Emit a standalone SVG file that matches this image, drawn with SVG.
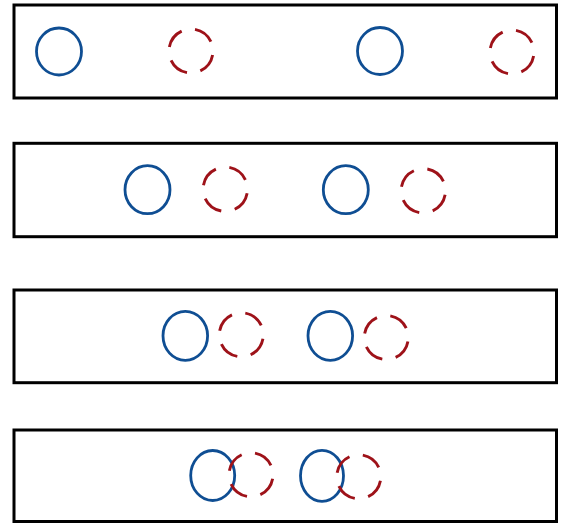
<svg xmlns="http://www.w3.org/2000/svg" width="562" height="527" viewBox="0 0 562 527">
<style>
.box{fill:#fff;stroke:#000;stroke-width:3}
.a{fill:none;stroke:#0f4e93;stroke-width:2.8}
.b{fill:none;stroke:#9e1219;stroke-width:2.9;stroke-dasharray:15 10;stroke-dashoffset:22}
</style>
<rect width="562" height="527" fill="#fff"/>
<g id="row1">
<rect class="box" x="14" y="5" width="542.5" height="93"/>
<ellipse class="a" cx="59" cy="51.5" rx="22.5" ry="23.5"/>
<circle class="b" cx="191" cy="51" r="22" pathLength="100"/>
<ellipse class="a" cx="380" cy="51" rx="22.5" ry="23.5"/>
<circle class="b" cx="512" cy="52" r="22" pathLength="100"/>
</g>
<g id="row2">
<rect class="box" x="14" y="143.3" width="542.5" height="93.4"/>
<ellipse class="a" cx="147.5" cy="189.7" rx="22.5" ry="24"/>
<circle class="b" cx="225.3" cy="189.2" r="22.2" pathLength="100"/>
<ellipse class="a" cx="345.8" cy="189.7" rx="22.5" ry="24"/>
<circle class="b" cx="423.3" cy="190.8" r="22.2" pathLength="100"/>
</g>
<g id="row3">
<rect class="box" x="14" y="290" width="542.5" height="92.7"/>
<ellipse class="a" cx="185.3" cy="335.8" rx="22.3" ry="24.5"/>
<circle class="b" cx="241.3" cy="334.8" r="22" pathLength="100"/>
<ellipse class="a" cx="330.3" cy="335.8" rx="22.3" ry="24.5"/>
<circle class="b" cx="386.3" cy="337.5" r="22" pathLength="100"/>
</g>
<g id="row4">
<rect class="box" x="14" y="430" width="542.5" height="91.5"/>
<ellipse class="a" cx="212.7" cy="475.5" rx="22" ry="25"/>
<circle class="b" cx="251" cy="474.7" r="22" pathLength="100"/>
<ellipse class="a" cx="322" cy="475.8" rx="21.5" ry="25.5"/>
<circle class="b" cx="358.8" cy="476.7" r="22" pathLength="100"/>
</g>
<g id="connectors"/>
</svg>
